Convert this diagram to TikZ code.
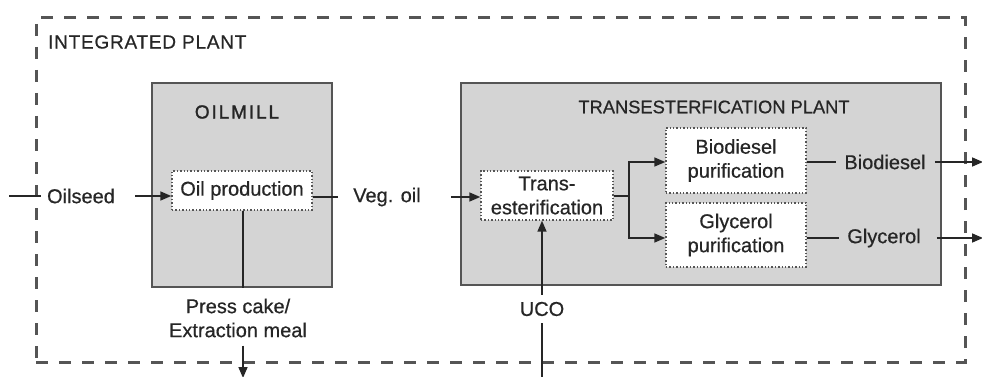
\documentclass[tikz,border=0pt]{standalone}
\usepackage{fontspec}
\setmainfont{Liberation Sans}[FakeBold=0.6]
\usetikzlibrary{arrows.meta}
\definecolor{ink}{HTML}{262626}
\definecolor{boxgray}{HTML}{D4D4D4}
\definecolor{edgegray}{HTML}{555555}
\begin{document}
\begin{tikzpicture}[x=1pt,y=-1pt,
  txt/.style={font=\fontsize{20}{24}\selectfont, text=ink, inner sep=0pt, align=center},
  captxt/.style={font=\fontsize{19}{23}\selectfont\addfontfeature{LetterSpace=4}, text=ink, inner sep=0pt},
  plantbox/.style={draw=edgegray, line width=1.8pt, fill=boxgray, inner sep=0pt},
  stepbox/.style={draw=edgegray, dotted, line width=1.4pt, fill=white, align=center,
    font=\fontsize{20}{24}\selectfont, text=ink, inner sep=0pt},
  flow/.style={draw=black!85, line width=1.6pt},
  arr/.style={flow, -{Triangle[length=11pt,width=9pt]}}
]
\useasboundingbox (0,0) rectangle (982,377);
% integrated plant
\node[draw=edgegray, line width=3pt, dash pattern=on 12pt off 11pt, minimum width=929pt, minimum height=344pt, inner sep=0pt] (plant) at (500.5,190) {};
\node[captxt, anchor=west] (plantlbl) at (48,42) {INTEGRATED PLANT};
% oil mill
\node[plantbox, minimum width=180pt, minimum height=204pt] (mill) at (242,185) {};
\node[captxt, font=\fontsize{19}{23}\selectfont\addfontfeature{LetterSpace=10,FakeBold=1.4}] (milllbl) at (237,112) {OILMILL};
\node[stepbox, minimum width=140pt, minimum height=39pt] (oilprod) at (242,190.5) {Oil production};
% transesterification plant
\node[plantbox, minimum width=480pt, minimum height=202pt] (tplant) at (701,184) {};
\node[txt, font=\fontsize{18.3}{22}\selectfont] (tplantlbl) at (714,107) {TRANSESTERFICATION PLANT};
\node[stepbox, minimum width=132pt, minimum height=49pt] (trans) at (547,195.5) {Trans-\\esterification};
\node[stepbox, minimum width=140pt, minimum height=65pt] (biopur) at (736,160.5) {Biodiesel\\purification};
\node[stepbox, minimum width=140pt, minimum height=64pt] (glypur) at (736,235) {Glycerol\\purification};
% stream labels
\node[txt] (oilseed) at (81,196) {Oilseed};
\node[txt] (vegoil) at (387,197) {Veg. oil};
\node[txt] (press) at (238,318) {Press cake/\\Extraction meal};
\node[txt] (uco) at (542,309) {UCO};
\node[txt] (biodiesel) at (885,162) {Biodiesel};
\node[txt] (glycerol) at (884,238) {Glycerol};
% free ends
\coordinate (inL) at (9,196);
\coordinate (pressEnd) at (243,378);
\coordinate (ucoEnd) at (542,378);
\coordinate (bioEnd) at (983,162);
\coordinate (glyEnd) at (983,238);
\coordinate (split) at (629,196);
% connectors
\draw[flow, shorten >=6pt] (inL) -- (oilseed.west);
\draw[arr, shorten <=20pt] (oilseed.east) -- (oilprod.west |- oilseed.east);
\draw[flow, shorten >=15pt] (oilprod.east |- vegoil.west) -- (vegoil.west);
\draw[arr, shorten <=30pt] (vegoil.east) -- (trans.west |- vegoil.east);
\draw[flow] (oilprod.south -| pressEnd) -- (mill.south -| pressEnd);
\draw[arr, shorten <=8pt] (press.south -| pressEnd) -- (pressEnd);
\draw[arr, shorten <=7pt] (uco.north) -- (trans.south -| uco.north);
\draw[flow, shorten <=7pt] (uco.south) -- (ucoEnd);
\draw[flow] (trans.east |- split) -- (split);
\draw[arr] (split) |- (biopur.west |- biodiesel);
\draw[arr] (split) |- (glypur.west |- glycerol);
\draw[flow, shorten >=8pt] (biopur.east |- biodiesel) -- (biodiesel.west);
\draw[flow, shorten >=8pt] (glypur.east |- glycerol) -- (glycerol.west);
\draw[arr, shorten <=9pt] (biodiesel.east) -- (bioEnd);
\draw[arr, shorten <=16pt] (glycerol.east) -- (glyEnd);
\end{tikzpicture}
\end{document}
